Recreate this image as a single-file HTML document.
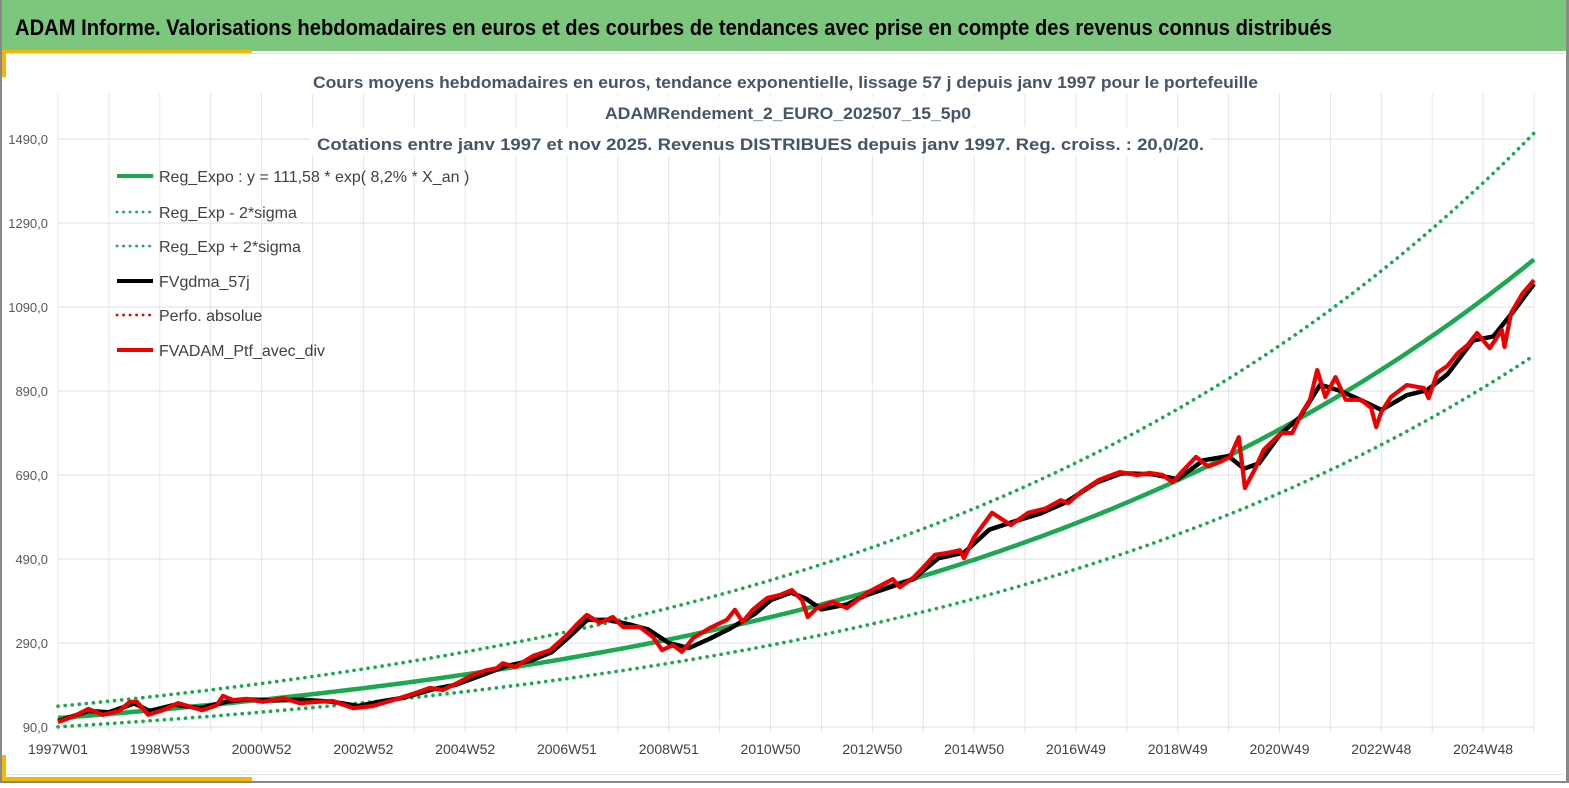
<!DOCTYPE html>
<html><head><meta charset="utf-8">
<style>
html,body{margin:0;padding:0;background:#fff;}
body{width:1569px;height:783px;overflow:hidden;position:relative;font-family:"Liberation Sans",sans-serif;}
</style></head>
<body>
<svg id="chart" width="1569" height="783" viewBox="0 0 1569 783" xmlns="http://www.w3.org/2000/svg">
  <rect x="0" y="0" width="1569" height="783" fill="#fff"/>
  <rect x="0" y="0" width="1569" height="51" fill="#7dc67d"/>
  <text x="15" y="35" font-size="22" font-weight="bold" fill="#000" textLength="1317" lengthAdjust="spacingAndGlyphs" font-family="Liberation Sans, sans-serif">ADAM Informe. Valorisations hebdomadaires en euros et des courbes de tendances avec prise en compte des revenus connus distribués</text>
  <rect x="0" y="50" width="252" height="3" fill="#f5b800"/>
  <rect x="0" y="50" width="6" height="27" fill="#f5b800"/>
  <rect x="0" y="755" width="6" height="28" fill="#f5b800"/>
  <rect x="0" y="777" width="252" height="6" fill="#f5b800"/>
  <rect x="6" y="53" width="1558" height="1" fill="#dde3ea"/>
  <rect x="6" y="774" width="1558" height="1" fill="#dde3ea"/>
  <rect x="0" y="0" width="2" height="783" fill="#888"/>
  <rect x="1566" y="0" width="3" height="783" fill="#888"/>
  <rect x="0" y="781" width="1569" height="2" fill="#888"/>
  <g id="grid"></g>
  <g id="axes"></g>
  <g>
  <rect x="308" y="66" width="955" height="28" fill="#fff"/>
  <rect x="598" y="97" width="380" height="28" fill="#fff"/>
  <rect x="310" y="127" width="900" height="28" fill="#fff"/>
  <text x="313" y="88" font-size="17" font-weight="bold" fill="#44546a" textLength="945" lengthAdjust="spacingAndGlyphs">Cours moyens hebdomadaires  en euros, tendance exponentielle, lissage 57 j depuis janv 1997 pour le portefeuille</text>
  <text x="605" y="119" font-size="17" font-weight="bold" fill="#44546a" textLength="366" lengthAdjust="spacingAndGlyphs">ADAMRendement_2_EURO_202507_15_5p0</text>
  <text x="317" y="150" font-size="17" font-weight="bold" fill="#44546a" textLength="887" lengthAdjust="spacingAndGlyphs">Cotations  entre janv 1997 et nov 2025. Revenus DISTRIBUES depuis janv 1997. Reg. croiss. : 20,0/20.</text>
  </g>
  <g id="series"></g>
  <g id="legend"></g>
</svg>
<script>
// ---- data ----
const xLabels = ["1997W01","1998W53","2000W52","2002W52","2004W52","2006W51","2008W51","2010W50","2012W50","2014W50","2016W49","2018W49","2020W49","2022W48","2024W48"];
const yTicks = [90,290,490,690,890,1090,1290,1490];
const yTickLabels = ["90,0","290,0","490,0","690,0","890,0","1090,0","1290,0","1490,0"];
const trendA = 111.58;
const trendRate = 0.082;
const sigmaLowFactor = 0.81;
const sigmaHighFactor = 1.25;
const ptfYears = [0,0.3,0.6,0.88,1.2,1.41,1.55,1.77,2.06,2.36,2.6,2.83,3.12,3.24,3.44,3.71,4.03,4.42,4.75,5.1,5.4,5.8,6.19,6.72,7.0,7.31,7.56,7.85,8.15,8.42,8.62,8.74,8.98,9.33,9.67,10.0,10.2,10.39,10.65,10.9,11.1,11.43,11.69,11.87,12.08,12.26,12.48,12.81,13.14,13.3,13.45,13.65,13.93,14.18,14.42,14.62,14.73,14.91,15.23,15.5,15.89,16.15,16.4,16.54,16.8,17.0,17.23,17.5,17.72,17.8,18.0,18.35,18.72,19.06,19.4,19.7,19.85,20.1,20.45,20.86,21.2,21.45,21.7,21.9,22.1,22.36,22.6,22.79,23.03,23.2,23.32,23.5,23.69,24.03,24.25,24.44,24.6,24.74,24.9,25.1,25.3,25.6,25.8,25.9,26.0,26.19,26.5,26.84,26.93,27.1,27.3,27.5,27.7,27.88,28.13,28.37,28.42,28.55,28.78,29.0];
const ptfValues = [102,115,133,119,128,150,150,119,130,147,138,130,142,164,154,157,150,159,147,150,152,135,140,159,170,183,178,195,214,225,230,242,233,259,273,309,335,357,338,352,328,328,304,273,285,269,302,326,345,369,340,369,397,404,416,392,352,373,388,373,409,426,442,423,445,470,500,505,511,492,542,600,571,600,610,630,623,650,678,697,690,695,690,673,700,733,710,719,733,780,659,700,750,790,790,838,870,940,876,923,869,869,850,804,840,876,904,897,873,933,950,980,1000,1028,992,1035,995,1076,1123,1154];
const gdmaYears = [0,0.6,1.0,1.5,1.8,2.3,2.8,3.3,3.7,4.2,4.8,5.4,5.9,6.3,6.8,7.4,7.8,8.3,8.8,9.3,9.7,10.0,10.4,10.8,11.2,11.6,12.0,12.4,12.8,13.2,13.7,14.0,14.4,14.7,15.0,15.5,15.9,16.4,16.8,17.3,17.8,18.3,18.8,19.3,19.8,20.4,20.9,21.5,22.0,22.5,23.0,23.3,23.6,24.0,24.4,24.8,25.2,25.6,26.0,26.5,26.9,27.3,27.8,28.2,28.6,29.0];
const gdmaValues = [104,128,125,146,128,143,135,150,156,153,155,150,140,150,160,181,190,212,235,248,268,300,345,345,335,322,290,278,300,324,360,392,410,395,370,382,405,425,442,492,505,560,580,598,625,672,694,692,680,725,735,705,718,785,828,905,890,868,845,880,892,930,1010,1020,1080,1145];

// ---- scales ----
const X0=58, X1=1534, T0=0, T1=29;
const Y0=727, pxPerUnit=0.42, VMIN=90;
const xs = t => X0 + (t-T0)/(T1-T0)*(X1-X0);
const ys = v => Y0 - (v-VMIN)*pxPerUnit;
const NS="http://www.w3.org/2000/svg";
function mk(tag, parent){const e=document.createElementNS(NS,tag);parent.appendChild(e);return e;}

// grid
const grid=document.getElementById('grid');
for(let i=0;i<=29;i++){
  const l=mk('line',grid);
  
  
  const x=xs(i);
  l.setAttribute('x1',x);l.setAttribute('x2',x);l.setAttribute('y1',93);l.setAttribute('y2',733);
  l.setAttribute('stroke','#e1e5ec');l.setAttribute('stroke-width','1');
}
const axes=document.getElementById('axes');
yTicks.forEach((v,i)=>{
  const l=mk('line',grid);
  
  
  l.setAttribute('x1',X0);l.setAttribute('x2',X1);l.setAttribute('y1',ys(v));l.setAttribute('y2',ys(v));
  l.setAttribute('stroke','#e1e5ec');l.setAttribute('stroke-width','1.2');
  const t=mk('text',axes);
  
  
  t.setAttribute('x',48);t.setAttribute('y',ys(v)+5);t.setAttribute('text-anchor','end');
  t.setAttribute('font-size','13');t.setAttribute('fill','#595959');
  t.textContent=yTickLabels[i];
});
xLabels.forEach((s,i)=>{
  const t=mk('text',axes);
  
  
  t.setAttribute('x',xs(i*2));t.setAttribute('y',754);t.setAttribute('text-anchor','middle');
  t.setAttribute('font-size','13.5');t.setAttribute('fill','#404040');
  t.setAttribute('textLength','60');t.setAttribute('lengthAdjust','spacingAndGlyphs');
  t.textContent=s;
});

// series
const ser=document.getElementById('series');
function curvePts(factor){
  const p=[];
  for(let i=0;i<=290;i++){const t=i/10;p.push(xs(t).toFixed(1)+','+ys(trendA*factor*Math.exp(trendRate*t)).toFixed(1));}
  return p.join(' ');
}
function poly(pts,color,w,dash,name){
  const p=mk('polyline',ser);
  
  
  p.setAttribute('points',pts);p.setAttribute('fill','none');p.setAttribute('stroke',color);
  p.setAttribute('stroke-width',w);p.setAttribute('stroke-linejoin','round');
  if(dash){p.setAttribute('stroke-dasharray',dash);p.setAttribute('stroke-linecap','round');}
  return p;
}
poly(curvePts(sigmaLowFactor),'#1aa850',3.6,'0.1 7','reg-exp-minus-2sigma');
poly(curvePts(sigmaHighFactor),'#1aa850',3.6,'0.1 7','reg-exp-plus-2sigma');
poly(curvePts(1),'#1aa850',4.5,null,'reg-expo-trend');
poly(gdmaYears.map((t,i)=>xs(t).toFixed(1)+','+ys(gdmaValues[i]).toFixed(1)).join(' '),'#000',4.5,null,'fvgdma-57j-line');
poly(ptfYears.map((t,i)=>xs(t).toFixed(1)+','+ys(ptfValues[i]).toFixed(1)).join(' '),'#ee0000',4.2,null,'fvadam-ptf-line');

// legend
const leg=document.getElementById('legend');
const legItems=[
 ['Reg_Expo : y = 111,58 * exp( 8,2% *  X_an )','#1aa850',false,'legend-reg-expo',176],
 ['Reg_Exp - 2*sigma','#1aa850',true,'legend-reg-exp-minus',212],
 ['Reg_Exp + 2*sigma','#1aa850',true,'legend-reg-exp-plus',246],
 ['FVgdma_57j','#000',false,'legend-fvgdma',281],
 ['Perfo. absolue','#ee0000',true,'legend-perfo-absolue',315],
 ['FVADAM_Ptf_avec_div','#ee0000',false,'legend-fvadam-ptf',350]
];
legItems.forEach(it=>{
  const g=mk('g',leg);
  
  
  const l=mk('line',g);
  l.setAttribute('x1',117);l.setAttribute('x2',153);l.setAttribute('y1',it[4]);l.setAttribute('y2',it[4]);
  l.setAttribute('stroke',it[1]);
  if(it[2]){l.setAttribute('stroke-width',2.8);l.setAttribute('stroke-dasharray','0.1 6.4');l.setAttribute('stroke-linecap','round');}
  else l.setAttribute('stroke-width',4);
  const t=mk('text',g);
  t.setAttribute('x',159);t.setAttribute('y',it[4]+6);t.setAttribute('font-size','16');t.setAttribute('fill','#404040');
  t.textContent=it[0];
});
</script>
</body></html>
